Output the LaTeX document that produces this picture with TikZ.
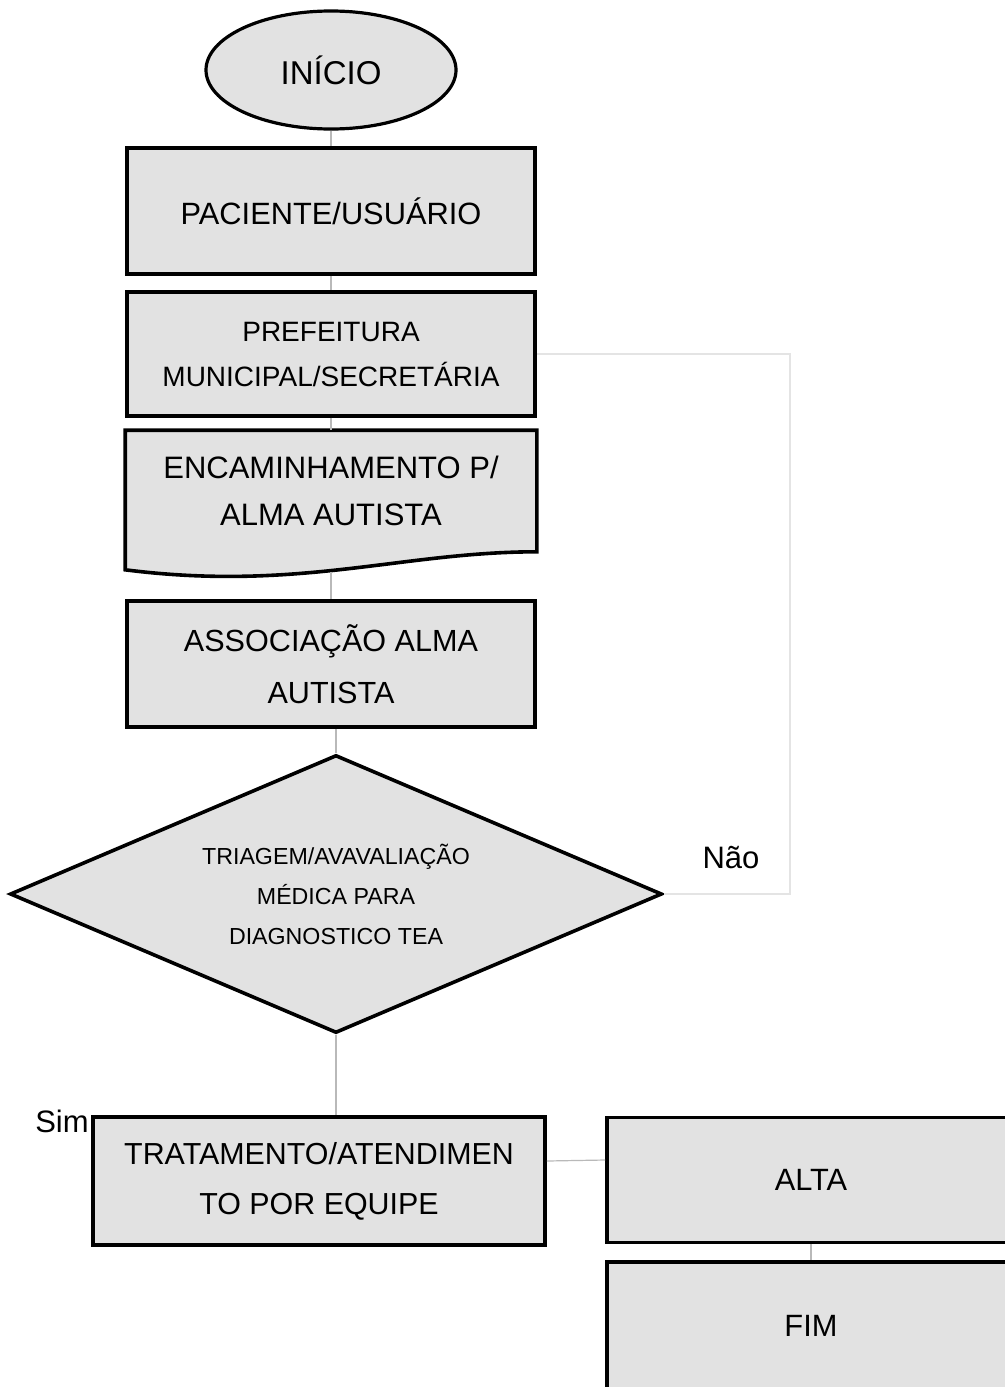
\documentclass[tikz,border=0pt]{standalone}
\usepackage{fontspec}
\setmainfont{Liberation Sans}
\usetikzlibrary{shapes.geometric,backgrounds}
\definecolor{scangray}{RGB}{226,226,226}
\definecolor{linegray}{RGB}{185,185,185}
\definecolor{fadegray}{RGB}{228,228,228}

\begin{document}
\begin{tikzpicture}[x=0.5pt,y=-0.5pt,
    box/.style={draw,line width=1.8pt,fill=scangray,minimum width=204pt,minimum height=63pt,align=center,font=\fontsize{15.4}{25}\selectfont},
    terminal/.style={ellipse,draw,line width=1.6pt,fill=scangray,minimum width=125pt,minimum height=59pt,font=\fontsize{16.5}{20}\selectfont},
    decision/.style={diamond,draw,line width=1.8pt,fill=scangray,aspect=2.35,inner sep=0pt,minimum width=326pt,minimum height=139pt,align=center,font=\fontsize{11.6}{20}\selectfont},
    link/.style={draw=linegray,line width=0.6pt},
    lbl/.style={font=\fontsize{15.5}{18}\selectfont}]

\clip (0,0) rectangle (1005,1387);

% Main column
\node[terminal] (ini) at (331,70) {INÍCIO};
\node[box] (pac) at (331,211) {PACIENTE/USUÁRIO};
\node[box,minimum height=62pt,font=\fontsize{14}{22.5}\selectfont] (pref) at (331,354) {PREFEITURA\\MUNICIPAL/SECRETÁRIA};
\node[box,draw=none,fill=none,minimum height=59pt,font=\fontsize{15.5}{23.5}\selectfont] (enc) at (331,491) {ENCAMINHAMENTO P/\\ALMA AUTISTA};
\node[box,font=\fontsize{15.3}{26}\selectfont] (assoc) at (331,664) {ASSOCIAÇÃO ALMA\\AUTISTA};
\node[decision] (diam) at (336,894) {TRIAGEM/AVAVALIAÇÃO\\MÉDICA PARA\\DIAGNOSTICO TEA};

% Document shape behind the text
\begin{scope}[on background layer]
\draw[line width=1.8pt,fill=scangray] (enc.north west) -- (enc.north east) -- (enc.south east)
    .. controls +(-135,0) and +(173,22) .. ([yshift=-9pt]enc.south west) -- cycle;
\end{scope}

% Lower row
\node[box,minimum width=226pt,minimum height=64pt,font=\fontsize{15.2}{25}\selectfont] (trat) at (319,1181) {TRATAMENTO/ATENDIMEN\\TO POR EQUIPE};
\node[box,minimum height=62.5pt] (alta) at (811,1180) {ALTA};
\node[box,minimum height=64pt] (fim) at (811,1326) {FIM};

% Labels
\node[lbl] (nao) at (731,858) {Não};
\node[lbl] (sim) at (62,1121) {Sim};

% Connections
\coordinate (encfoot) at (331,572);
\coordinate (loopcorner) at (790,354);
\draw[link] (ini) -- (pac);
\draw[link] (pac) -- (pref);
\draw[link] (pref.south) -- (enc.north);
\draw[link] (encfoot) -- (encfoot |- assoc.north);
\draw[link] (diam.north |- assoc.south) -- (diam.north);
\draw[link,draw=fadegray] (diam.east) -| (loopcorner) -- (pref.east);
\draw[link] (diam.south) -- (diam.south |- trat.north);
\draw[link] ([yshift=10pt]trat.east) -- ([yshift=10pt]alta.west);
\draw[link] (alta) -- (fim);
\end{tikzpicture}
\end{document}
